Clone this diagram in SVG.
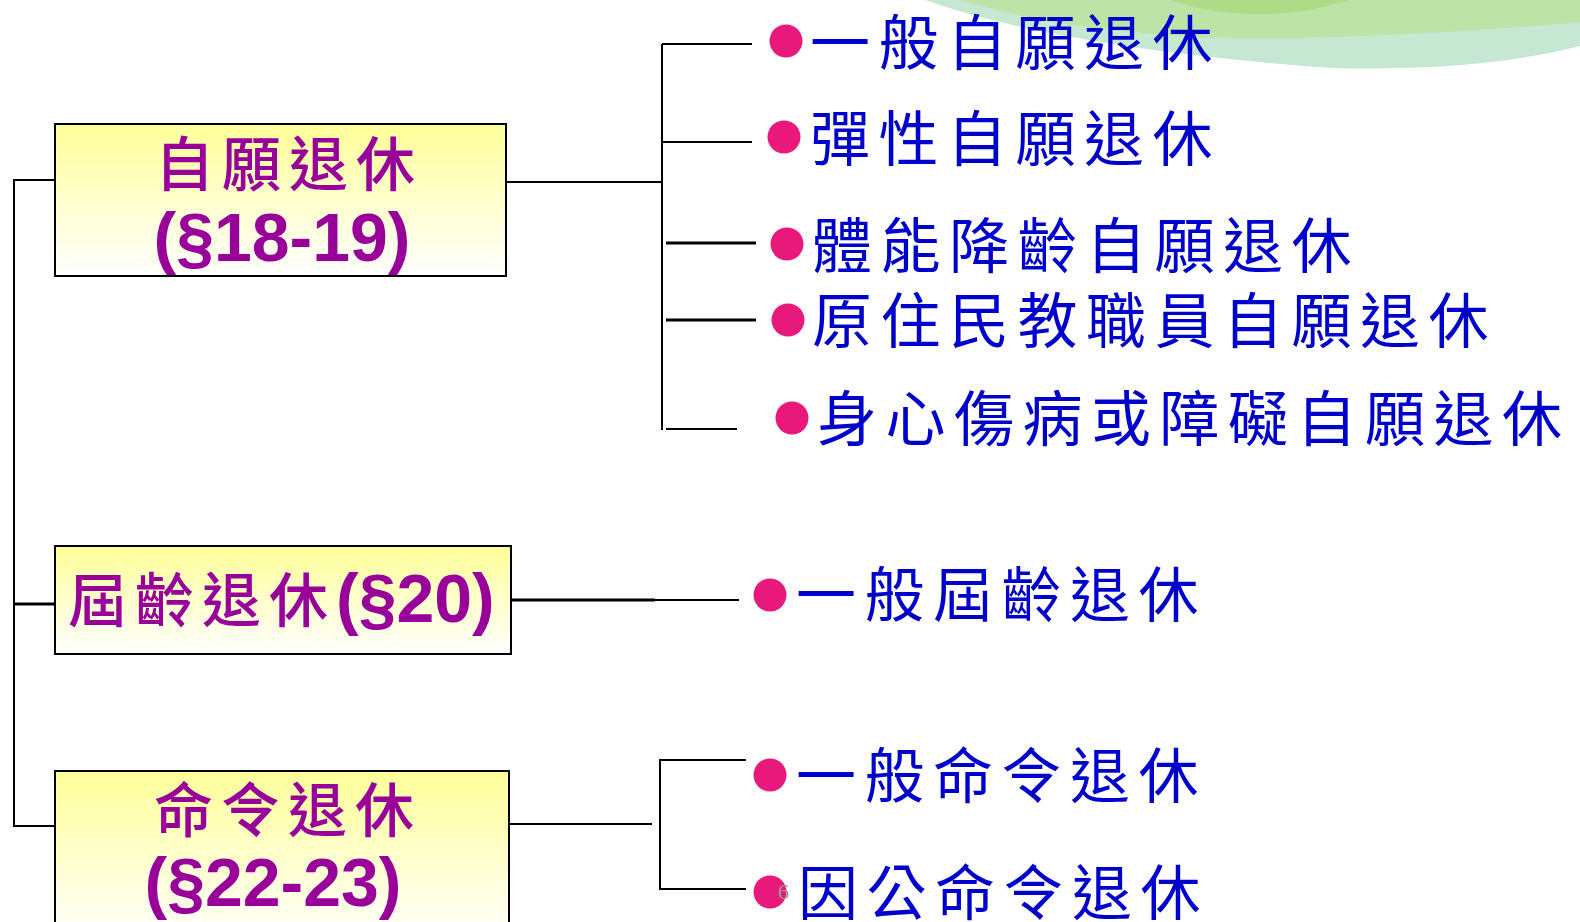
<svg xmlns="http://www.w3.org/2000/svg" width="1580" height="922" viewBox="0 0 1580 922">
<defs>
<linearGradient id="boxfill" x1="0" y1="0" x2="0" y2="1">
<stop offset="0" stop-color="#FFFF99"/>
<stop offset="1" stop-color="#FFFFFF"/>
</linearGradient>
<style>
.box{fill:url(#boxfill);stroke:#000;stroke-width:2}
.ln{stroke:#000;stroke-width:2;fill:none}
.lnb{stroke:#000;stroke-width:3;fill:none}
.dot{fill:#E8197A}
.item{font-family:"Noto Sans CJK TC","Noto Sans CJK SC",sans-serif;font-size:60px;fill:#0000CC;letter-spacing:8.5px;dominant-baseline:central}
.kai{font-family:"Noto Sans CJK TC","Noto Sans CJK SC",sans-serif;font-size:59px;font-weight:500;fill:#990099;letter-spacing:8px}
.num{font-family:"Liberation Sans",Arial,sans-serif;font-weight:bold;font-size:68px;fill:#990099}
</style>
</defs>
<rect width="1580" height="922" fill="#FFFFFF"/>
<g id="decor">
<path d="M925 0 Q1060 48 1330 68 Q1480 72 1580 46 L1580 0 Z" fill="#C6E7D2"/>
<path d="M960 0 Q1100 42 1300 38 Q1450 34 1580 22 L1580 0 Z" fill="#BDE3A6"/>
<path d="M1170 0 Q1235 22 1310 10 L1350 0 Z" fill="#ADDB86"/>
</g>
<g id="connectors">
<polyline class="ln" points="55,180 14,180 14,826 55,826"/>
<line class="lnb" x1="14" y1="604" x2="55" y2="604"/>
<line class="ln" x1="506" y1="182" x2="662" y2="182"/>
<line class="ln" x1="662" y1="44" x2="662" y2="430"/>
<line class="ln" x1="662" y1="44" x2="752" y2="44"/>
<line class="ln" x1="662" y1="142" x2="752" y2="142"/>
<line class="lnb" x1="666" y1="243" x2="756" y2="243"/>
<line class="lnb" x1="666" y1="320" x2="756" y2="320"/>
<line class="ln" x1="666" y1="429" x2="737" y2="429"/>
<line class="lnb" x1="511" y1="600" x2="655" y2="600"/>
<line class="ln" x1="655" y1="600" x2="739" y2="600"/>
<line class="ln" x1="509" y1="824" x2="652" y2="824"/>
<polyline class="ln" points="746,760 660,760 660,889 746,889"/>
</g>
<g id="node-voluntary">
<rect class="box" x="55" y="124" width="451" height="152"/>
<text class="kai" x="289" y="186" text-anchor="middle">自願退休</text>
<text class="num" x="282" y="261" text-anchor="middle">(§18-19)</text>
</g>
<g id="node-age">
<rect class="box" x="55" y="546" width="456" height="108"/>
<text x="68" y="622"><tspan class="kai" letter-spacing="9">屆齡退休</tspan><tspan class="num">(§20)</tspan></text>
</g>
<g id="node-order">
<rect class="box" x="55" y="771" width="454" height="170"/>
<text class="kai" x="288" y="832" text-anchor="middle">命令退休</text>
<text class="num" x="273" y="906" text-anchor="middle">(§22-23)</text>
</g>
<g id="item-1"><circle class="dot" cx="786" cy="41" r="16.5"/><text class="item" x="810" y="38">一般自願退休</text></g>
<g id="item-2"><circle class="dot" cx="784" cy="137" r="16.5"/><text class="item" x="810" y="134">彈性自願退休</text></g>
<g id="item-3"><circle class="dot" cx="787" cy="244" r="16.5"/><text class="item" x="812" y="241">體能降齡自願退休</text></g>
<g id="item-4"><circle class="dot" cx="788" cy="320" r="16.5"/><text class="item" x="812" y="316">原住民教職員自願退休</text></g>
<g id="item-5"><circle class="dot" cx="792" cy="418" r="16.5"/><text class="item" x="817" y="414">身心傷病或障礙自願退休</text></g>
<g id="item-6"><circle class="dot" cx="770" cy="595" r="16.5"/><text class="item" x="796" y="590">一般屆齡退休</text></g>
<g id="item-7"><circle class="dot" cx="770" cy="775" r="16.5"/><text class="item" x="796" y="771">一般命令退休</text></g>
<g id="item-8"><circle class="dot" cx="770" cy="892" r="16.5"/><text class="item" x="798" y="888">因公命令退休</text></g>
<text x="778" y="899" font-family="Liberation Serif,serif" font-size="22" fill="#999999">6</text>
</svg>
